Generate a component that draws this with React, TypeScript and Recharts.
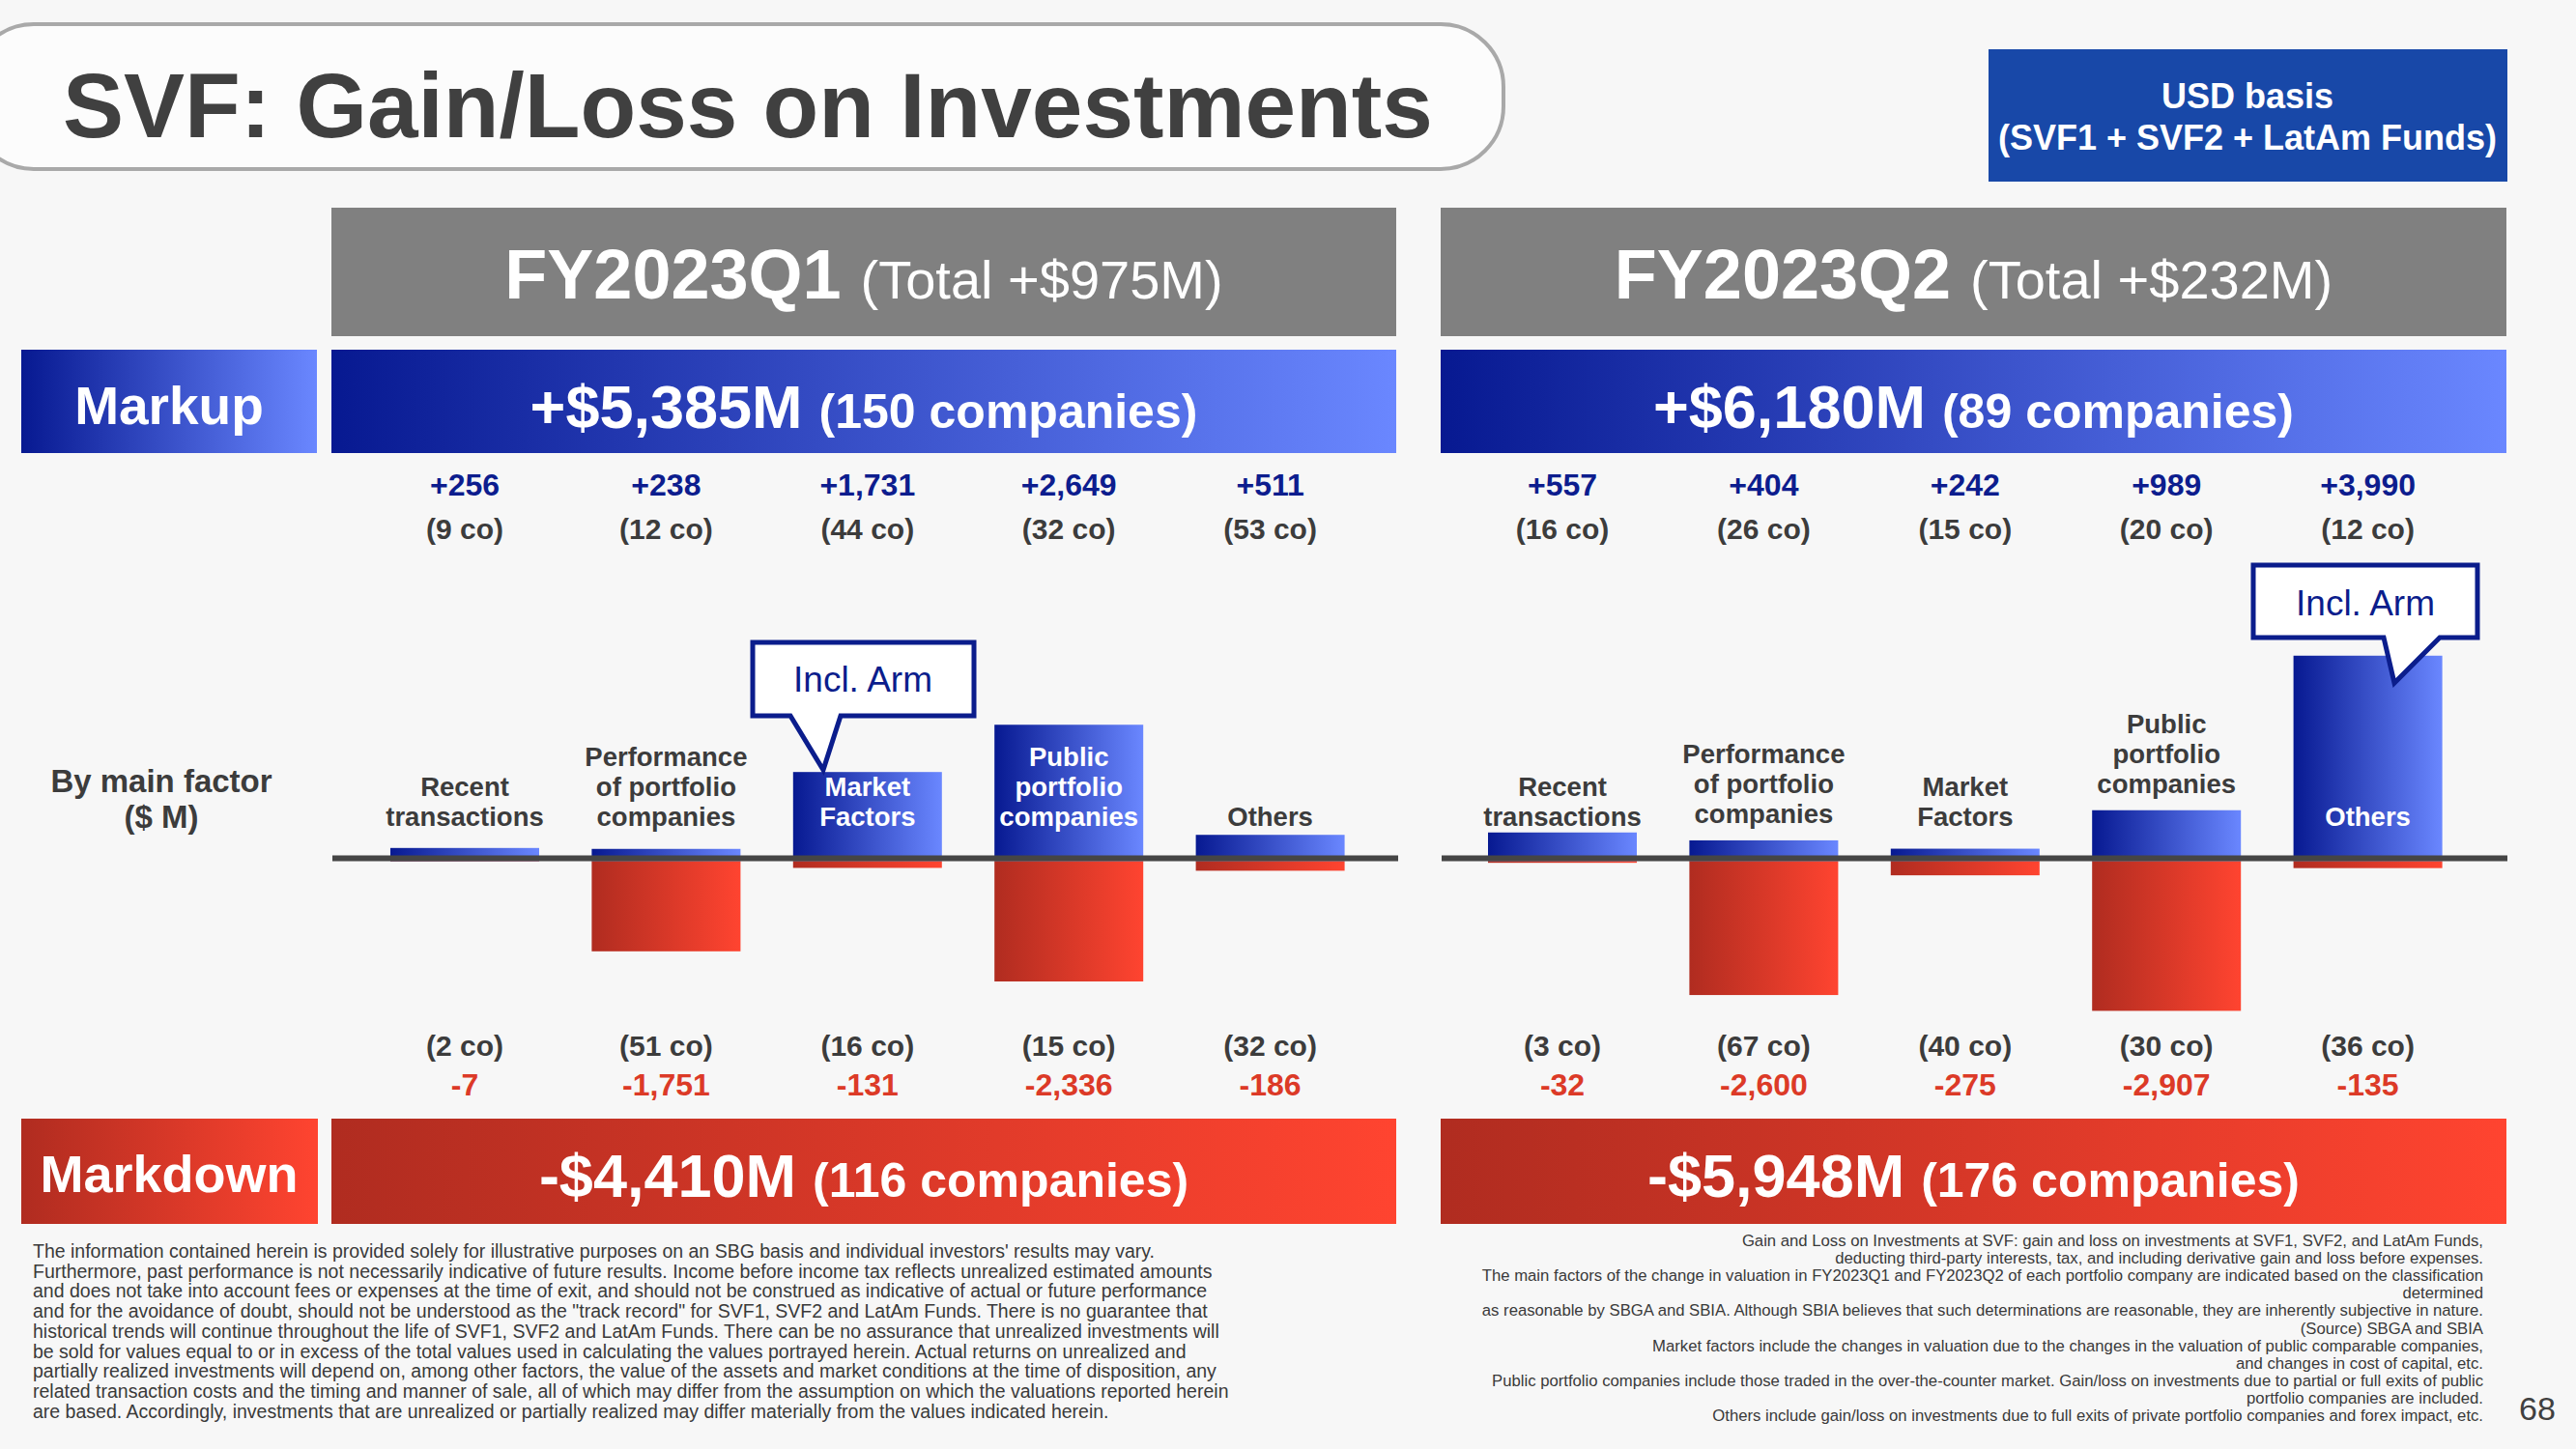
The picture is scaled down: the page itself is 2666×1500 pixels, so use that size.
import React from 'react';
import { BarChart, Bar, XAxis, YAxis, ReferenceLine } from 'recharts';

const FONT = '"Liberation Sans", Arial, Helvetica, sans-serif';

// factor categories (bar groups)
const factorNames = ['Recent transactions', 'Performance of portfolio companies', 'Market Factors', 'Public portfolio companies', 'Others'];
const factorLines = [['Recent', 'transactions'], ['Performance', 'of portfolio', 'companies'], ['Market', 'Factors'], ['Public', 'portfolio', 'companies'], ['Others']];

// FY2023Q1, $M
const q1Markup = [256, 238, 1731, 2649, 511];
const q1MarkupCos = [9, 12, 44, 32, 53];
const q1Markdown = [-7, -1751, -131, -2336, -186];
const q1MarkdownCos = [2, 51, 16, 15, 32];

// FY2023Q2, $M
const q2Markup = [557, 404, 242, 989, 3990];
const q2MarkupCos = [16, 26, 15, 20, 12];
const q2Markdown = [-32, -2600, -275, -2907, -135];
const q2MarkdownCos = [3, 67, 40, 30, 36];

// header / totals
const quarterNames = ['FY2023Q1', 'FY2023Q2'];
const quarterTotals = ['(Total +$975M)', '(Total +$232M)'];
const markupTotals = ['+$5,385M', '+$6,180M'];
const markupCounts = ['(150 companies)', '(89 companies)'];
const markdownTotals = ['-$4,410M', '-$5,948M'];
const markdownCounts = ['(116 companies)', '(176 companies)'];

const notesLeft = [
  "The information contained herein is provided solely for illustrative purposes on an SBG basis and individual investors' results may vary.",
  'Furthermore, past performance is not necessarily indicative of future results. Income before income tax reflects unrealized estimated amounts',
  'and does not take into account fees or expenses at the time of exit, and should not be construed as indicative of actual or future performance',
  'and for the avoidance of doubt, should not be understood as the "track record" for SVF1, SVF2 and LatAm Funds. There is no guarantee that',
  'historical trends will continue throughout the life of SVF1, SVF2 and LatAm Funds. There can be no assurance that unrealized investments will',
  'be sold for values equal to or in excess of the total values used in calculating the values portrayed herein. Actual returns on unrealized and',
  'partially realized investments will depend on, among other factors, the value of the assets and market conditions at the time of disposition, any',
  'related transaction costs and the timing and manner of sale, all of which may differ from the assumption on which the valuations reported herein',
  'are based. Accordingly, investments that are unrealized or partially realized may differ materially from the values indicated herein.',
];

const notesRight = [
  'Gain and Loss on Investments at SVF: gain and loss on investments at SVF1, SVF2, and LatAm Funds,',
  'deducting third-party interests, tax, and including derivative gain and loss before expenses.',
  'The main factors of the change in valuation in FY2023Q1 and FY2023Q2 of each portfolio company are indicated based on the classification',
  'determined',
  'as reasonable by SBGA and SBIA. Although SBIA believes that such determinations are reasonable, they are inherently subjective in nature.',
  '(Source) SBGA and SBIA',
  'Market factors include the changes in valuation due to the changes in the valuation of public comparable companies,',
  'and changes in cost of capital, etc.',
  'Public portfolio companies include those traded in the over-the-counter market. Gain/loss on investments due to partial or full exits of public',
  'portfolio companies are included.',
  'Others include gain/loss on investments due to full exits of private portfolio companies and forex impact, etc.',
];

const CHART_TOP = 465;
const CHART_H = 693;
const CHART_W = 1103;
const LABEL_BASE = 855 - CHART_TOP;
const LINE_H = 31;
const NAVY = '#0d1d8e';
const RED = '#dc3a27';
const INK = '#3c3c3c';

function fmt(v: number) {
  return (v > 0 ? '+' : '') + v.toLocaleString('en-US');
}

function buildRows(up: number[], upCos: number[], down: number[], downCos: number[]) {
  return factorNames.map((name, i) => ({
    name,
    lines: factorLines[i],
    up: up[i],
    upCo: upCos[i],
    down: down[i],
    downCo: downCos[i],
  }));
}

const q1Rows = buildRows(q1Markup, q1MarkupCos, q1Markdown, q1MarkdownCos);
const q2Rows = buildRows(q2Markup, q2MarkupCos, q2Markdown, q2MarkdownCos);

function UpBar(props: any) {
  const { x, y, width, height, payload } = props;
  const top = Math.min(y, y + height);
  const h = Math.abs(height);
  const cx = x + width / 2;
  const lines: string[] = payload.lines;
  const firstBase = LABEL_BASE - (lines.length - 1) * LINE_H;
  const inside = top <= firstBase - 22;
  let lastBase = LABEL_BASE;
  if (!inside) {
    const gap = /[gjpqy]/.test(lines[lines.length - 1]) ? 18 : 7;
    lastBase = Math.min(LABEL_BASE, top - gap);
  }
  return (
    <g>
      <rect x={x} y={top} width={width} height={h} fill="url(#gradBlue)" />
      <text textAnchor="middle" fontFamily={FONT} fontWeight="bold" fontSize={27.5} fill={inside ? '#ffffff' : INK}>
        {lines.map((l, i) => (
          <tspan key={i} x={cx} y={lastBase - (lines.length - 1 - i) * LINE_H}>{l}</tspan>
        ))}
      </text>
      <text x={cx} y={48} textAnchor="middle" fontFamily={FONT} fontWeight="bold" fontSize={32} fill={NAVY}>{fmt(payload.up)}</text>
      <text x={cx} y={93} textAnchor="middle" fontFamily={FONT} fontWeight="bold" fontSize={30} fill={INK}>{`(${payload.upCo} co)`}</text>
      <text x={cx} y={628} textAnchor="middle" fontFamily={FONT} fontWeight="bold" fontSize={30} fill={INK}>{`(${payload.downCo} co)`}</text>
      <text x={cx} y={669} textAnchor="middle" fontFamily={FONT} fontWeight="bold" fontSize={32} fill={RED}>{fmt(payload.down)}</text>
    </g>
  );
}

function DownBar(props: any) {
  const { x, y, width, height } = props;
  const top = Math.min(y, y + height);
  return <rect x={x} y={top} width={width} height={Math.abs(height)} fill="url(#gradRed)" />;
}

function FactorChart(props: { rows: any[]; padLeft: number; padRight: number }) {
  return (
    <BarChart width={CHART_W} height={CHART_H} data={props.rows} stackOffset="sign" barSize={154}
      margin={{ top: 0, right: 0, bottom: 0, left: 0 }}>
      <XAxis dataKey="name" hide padding={{ left: props.padLeft, right: props.padRight }} />
      <YAxis hide type="number" domain={[-5000, 8000]} allowDataOverflow />
      <Bar dataKey="up" stackId="s" shape={UpBar} isAnimationActive={false} />
      <Bar dataKey="down" stackId="s" shape={DownBar} isAnimationActive={false} />
      <ReferenceLine y={0} stroke="#454545" strokeWidth={6}
        shape={(p: any) => <line x1={p.x1} x2={p.x2} y1={p.y1 - 3} y2={p.y2 - 3} stroke="#454545" strokeWidth={6} />} />
    </BarChart>
  );
}

const colX = [[343, 1445], [1491, 2594]];

export default function App() {
  return (
    <div style={{ position: 'absolute', left: 0, top: 0, width: 2666, height: 1500, overflow: 'hidden', background: '#f7f7f7', fontFamily: FONT }}>
      <svg width={2666} height={1500} style={{ position: 'absolute', left: 0, top: 0 }}>
        <defs>
          <linearGradient id="gradBlue" x1="0" y1="0" x2="1" y2="0">
            <stop offset="0" stopColor="#071991" />
            <stop offset="1" stopColor="#6a87ff" />
          </linearGradient>
          <linearGradient id="gradRed" x1="0" y1="0" x2="1" y2="0">
            <stop offset="0" stopColor="#b02c20" />
            <stop offset="1" stopColor="#ff4430" />
          </linearGradient>
        </defs>

        {/* title */}
        <rect x={-30} y={25} width={1586} height={150} rx={65} ry={65} fill="#fcfcfc" stroke="#a9a9a9" strokeWidth={4} />
        <text x={65} y={142} fontFamily={FONT} fontWeight="bold" fontSize={94.5} fill="#404040">SVF: Gain/Loss on Investments</text>

        {/* USD basis */}
        <rect x={2058} y={51} width={537} height={137} fill="#1848a8" />
        <text x={2326} y={112} textAnchor="middle" fontFamily={FONT} fontWeight="bold" fontSize={36} fill="#fff">USD basis</text>
        <text x={2326} y={155} textAnchor="middle" fontFamily={FONT} fontWeight="bold" fontSize={36} fill="#fff">(SVF1 + SVF2 + LatAm Funds)</text>

        {/* row labels */}
        <rect x={22} y={362} width={306} height={107} fill="url(#gradBlue)" />
        <text x={175} y={439} textAnchor="middle" fontFamily={FONT} fontWeight="bold" fontSize={55} fill="#fff">Markup</text>
        <rect x={22} y={1158} width={307} height={109} fill="url(#gradRed)" />
        <text x={175} y={1234} textAnchor="middle" fontFamily={FONT} fontWeight="bold" fontSize={54} fill="#fff">Markdown</text>
        <text x={167} y={820} textAnchor="middle" fontFamily={FONT} fontWeight="bold" fontSize={33} fill={INK}>By main factor</text>
        <text x={167} y={857} textAnchor="middle" fontFamily={FONT} fontWeight="bold" fontSize={33} fill={INK}>($ M)</text>

        {quarterNames.map((q, i) => {
          const [x0, x1] = colX[i];
          const cx = (x0 + x1) / 2;
          return (
            <g key={q}>
              <rect x={x0} y={215} width={x1 - x0} height={133} fill="#808080" />
              <text x={cx} y={309} textAnchor="middle" fontFamily={FONT} fill="#fff">
                <tspan fontWeight="bold" fontSize={72}>{q}</tspan>
                <tspan fontSize={56} dx={20}>{quarterTotals[i]}</tspan>
              </text>
              <rect x={x0} y={362} width={x1 - x0} height={107} fill="url(#gradBlue)" />
              <text x={cx} y={443} textAnchor="middle" fontFamily={FONT} fontWeight="bold" fill="#fff">
                <tspan fontSize={63}>{markupTotals[i]}</tspan>
                <tspan fontSize={50} dx={17}>{markupCounts[i]}</tspan>
              </text>
              <rect x={x0} y={1158} width={x1 - x0} height={109} fill="url(#gradRed)" />
              <text x={cx} y={1239} textAnchor="middle" fontFamily={FONT} fontWeight="bold" fill="#fff">
                <tspan fontSize={63}>{markdownTotals[i]}</tspan>
                <tspan fontSize={50} dx={17}>{markdownCounts[i]}</tspan>
              </text>
            </g>
          );
        })}

        {/* footnotes */}
        {notesLeft.map((t, i) => (
          <text key={i} x={34} y={1302 + i * 20.7} fontFamily={FONT} fontSize={19.5} fill="#3a3a3a">{t}</text>
        ))}
        {notesRight.map((t, i) => (
          <text key={i} x={2570} y={1290 + i * 18.1} textAnchor="end" fontFamily={FONT} fontSize={16.7} fill="#3a3a3a">{t}</text>
        ))}
        <text x={2626} y={1470} textAnchor="middle" fontFamily={FONT} fontSize={34} fill="#404040">68</text>
      </svg>

      <div style={{ position: 'absolute', left: 344, top: CHART_TOP }}>
        <FactorChart rows={q1Rows} padLeft={33} padRight={28} />
      </div>
      <div style={{ position: 'absolute', left: 1492, top: CHART_TOP }}>
        <FactorChart rows={q2Rows} padLeft={21} padRight={40} />
      </div>

      {/* callouts */}
      <svg width={2666} height={1500} style={{ position: 'absolute', left: 0, top: 0, pointerEvents: 'none' }}>
        <path d="M779 665 H1008 V741 H870 L852 797 L818 741 H779 Z" fill="#ffffff" stroke="#0b1d8c" strokeWidth={5} strokeLinejoin="miter" />
        <text x={893} y={716} textAnchor="middle" fontFamily={FONT} fontSize={37} fill="#0b1d8c">Incl. Arm</text>
        <path d="M2332 585 H2564 V660 H2525 L2478 707 L2467 660 H2332 Z" fill="#ffffff" stroke="#0b1d8c" strokeWidth={5} strokeLinejoin="miter" />
        <text x={2448} y={637} textAnchor="middle" fontFamily={FONT} fontSize={37} fill="#0b1d8c">Incl. Arm</text>
      </svg>
    </div>
  );
}
